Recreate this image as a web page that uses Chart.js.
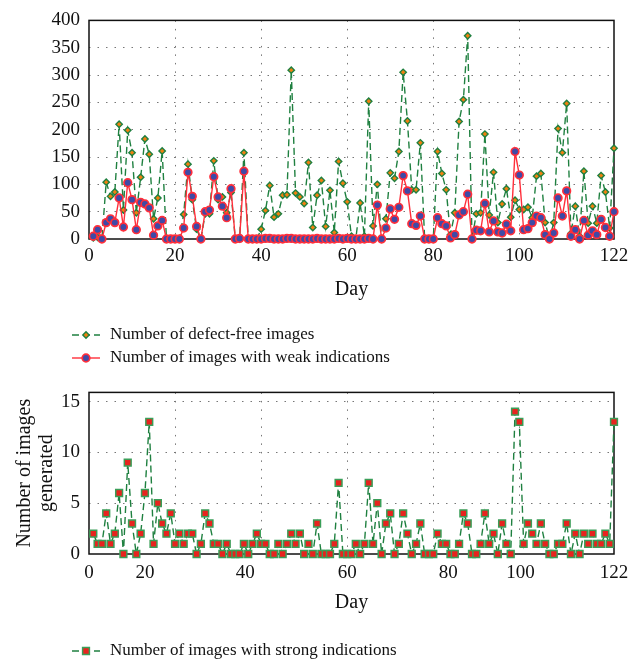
<!DOCTYPE html>
<html>
<head>
<meta charset="utf-8">
<script src="https://cdn.jsdelivr.net/npm/chart.js@4.4.1/dist/chart.umd.min.js"></script>
<style>
  html, body { margin: 0; padding: 0; background: #fff; overflow: hidden; }
  #topBox { position: absolute; left: 0; top: 0; width: 639px; height: 372px; }
  #bottomBox { position: absolute; left: 0; top: 372px; width: 639px; height: 293px; }
</style>
</head>
<body>
<div id="topBox"><canvas id="topChart"></canvas></div>
<div id="bottomBox"><canvas id="bottomChart"></canvas></div>
<script>
// day 1 .. 122
var defectFree = [2, 3, 0, 104, 78, 86, 210, 53, 199, 158,
  48, 113, 183, 155, 37, 75, 161, 0, 0, 0,
  0, 45, 137, 72, 18, 0, 46, 46, 143, 72,
  77, 48, 85, 0, 0, 158, 0, 0, 0, 18,
  52, 98, 40, 46, 80, 81, 309, 84, 77, 65,
  140, 21, 80, 107, 23, 89, 12, 142, 102, 68,
  5, 0, 66, 5, 252, 24, 100, 0, 37, 121,
  111, 160, 305, 216, 90, 90, 176, 0, 0, 0,
  160, 120, 90, 8, 48, 215, 255, 372, 0, 46,
  48, 192, 44, 122, 30, 64, 92, 40, 71, 54,
  54, 58, 39, 115, 120, 30, 0, 30, 202, 158,
  248, 10, 60, 5, 124, 29, 60, 29, 116, 86,
  20, 166];
var weakInd = [5, 17, 0, 30, 37, 30, 75, 22, 103, 72,
  17, 67, 64, 57, 7, 24, 34, 0, 0, 0,
  0, 20, 122, 78, 23, 0, 50, 53, 114, 77,
  60, 39, 92, 0, 1, 124, 0, 0, 0, 0,
  1, 1, 0, 0, 0, 1, 1, 0, 0, 0,
  0, 0, 1, 0, 0, 0, 0, 1, 0, 1,
  0, 0, 0, 0, 1, 0, 62, 0, 20, 55,
  36, 58, 116, 88, 28, 25, 42, 0, 0, 0,
  39, 28, 24, 2, 8, 44, 50, 82, 0, 16,
  15, 65, 13, 33, 13, 11, 27, 15, 160, 117,
  17, 19, 30, 42, 39, 8, 0, 11, 75, 42,
  88, 5, 17, 0, 34, 7, 15, 8, 36, 21,
  5, 50];
var strongInd = [2, 1, 1, 4, 1, 2, 6, 0, 9, 3,
  0, 2, 6, 13, 1, 5, 3, 2, 4, 1,
  2, 1, 2, 2, 0, 1, 4, 3, 1, 1,
  0, 1, 0, 0, 0, 1, 0, 1, 2, 1,
  1, 0, 0, 1, 0, 1, 2, 1, 2, 0,
  1, 0, 3, 0, 0, 0, 1, 7, 0, 0,
  0, 1, 0, 1, 7, 1, 5, 0, 3, 4,
  0, 1, 4, 2, 0, 1, 3, 0, 0, 0,
  2, 1, 1, 0, 0, 1, 4, 3, 0, 0,
  1, 4, 1, 2, 0, 3, 1, 0, 14, 13,
  1, 3, 2, 1, 3, 1, 0, 0, 1, 1,
  3, 0, 2, 0, 2, 1, 2, 1, 1, 2,
  1, 13];
var days = defectFree.map(function (v, i) { return i + 1; });

var dayTicks = [0, 20, 40, 60, 80, 100, 122];
// the lower panel prints its day labels at these spots
var strongLabelDays = [0, 13, 36.3, 60, 83.5, 100.3, 122];
var topYTicks = [0, 50, 100, 150, 200, 250, 300, 350, 400];
var bottomYTicks = [0, 5, 10, 15];

var green = '#1f8040';
var gridCol = '#777';

Chart.defaults.font.family = "'Liberation Serif', 'Times New Roman', serif";
Chart.defaults.color = '#111';

function pts(arr) {
  return arr.map(function (v, i) { return { x: days[i], y: v }; });
}

function innerGrid(lo, hi) {
  return function (c) {
    var v = c.tick ? c.tick.value : lo;
    return (v > lo && v < hi) ? gridCol : 'rgba(0,0,0,0)';
  };
}

var framePlugin = {
  id: 'frame',
  beforeDatasetsDraw: function (chart) {
    var ctx = chart.ctx, a = chart.chartArea;
    ctx.save();
    ctx.strokeStyle = '#111';
    ctx.lineWidth = 1.5;
    ctx.strokeRect(a.left, a.top, a.right - a.left, a.bottom - a.top);
    ctx.restore();
  }
};

var legendPlugin = {
  id: 'sideLegend',
  afterDraw: function (chart, args, opts) {
    var ctx = chart.ctx;
    ctx.save();
    chart.data.datasets.forEach(function (ds, i) {
      var y = opts.top + i * opts.rowHeight;
      var x = opts.left;
      ctx.beginPath();
      ctx.setLineDash(ds.borderDash || []);
      ctx.lineWidth = ds.borderWidth;
      ctx.strokeStyle = ds.borderColor;
      ctx.moveTo(x, y);
      ctx.lineTo(x + 28, y);
      ctx.stroke();
      ctx.setLineDash([]);
      ctx.fillStyle = ds.pointBackgroundColor;
      ctx.strokeStyle = ds.pointBorderColor;
      ctx.lineWidth = ds.pointBorderWidth;
      Chart.helpers.drawPoint(ctx, {
        pointStyle: ds.pointStyle, radius: ds.pointRadius,
        borderWidth: ds.pointBorderWidth, rotation: 0
      }, x + 14, y);
      ctx.fillStyle = '#111';
      ctx.font = "17px 'Liberation Serif', serif";
      ctx.textBaseline = 'middle';
      ctx.textAlign = 'left';
      ctx.fillText(ds.label, x + 38, y);
    });
    ctx.restore();
  }
};

new Chart(document.getElementById('topChart'), {
  type: 'line',
  data: {
    datasets: [{
      label: 'Number of defect-free images',
      data: pts(defectFree),
      borderColor: green,
      borderDash: [7, 4],
      borderWidth: 1.4,
      pointStyle: 'rectRot',
      pointRadius: 3.2,
      pointBackgroundColor: '#f0800f',
      pointBorderColor: green,
      pointBorderWidth: 1.4,
      order: 2,
      clip: false
    }, {
      label: 'Number of images with weak indications',
      data: pts(weakInd),
      borderColor: '#ff2e3a',
      borderWidth: 1.4,
      pointStyle: 'circle',
      pointRadius: 3.8,
      pointBackgroundColor: '#3f4aa6',
      pointBorderColor: '#ff2e3a',
      pointBorderWidth: 1.7,
      order: 1,
      clip: false
    }]
  },
  options: {
    animation: false,
    responsive: true,
    maintainAspectRatio: false,
    layout: { padding: { top: 15, right: 25, left: 0, bottom: 68 } },
    plugins: {
      legend: { display: false },
      tooltip: { enabled: false },
      sideLegend: { left: 72, top: 335, rowHeight: 23 }
    },
    scales: {
      x: {
        type: 'linear', min: 0, max: 122,
        afterBuildTicks: function (s) { s.ticks = dayTicks.map(function (v) { return { value: v }; }); },
        ticks: { autoSkip: false, maxRotation: 0, padding: 6, font: { size: 19 }, color: '#111' },
        grid: { drawTicks: false, color: innerGrid(0, 122), lineWidth: 1 },
        border: { display: false, dash: [1.5, 7] },
        title: { display: true, text: 'Day', font: { size: 20, lineHeight: 1.1 }, padding: { top: 0, bottom: 3 }, color: '#111' },
        afterFit: function (s) { s.height = 65; }
      },
      y: {
        min: 0, max: 400,
        afterBuildTicks: function (s) { s.ticks = topYTicks.map(function (v) { return { value: v }; }); },
        ticks: { padding: 9, font: { size: 19 }, color: '#111' },
        grid: { drawTicks: false, color: innerGrid(0, 400), lineWidth: 1 },
        border: { display: false, dash: [1.5, 7] },
        afterFit: function (s) { s.width = 89; }
      }
    }
  },
  plugins: [framePlugin, legendPlugin]
});

new Chart(document.getElementById('bottomChart'), {
  type: 'line',
  data: {
    datasets: [{
      label: 'Number of images with strong indications',
      data: pts(strongInd),
      borderColor: green,
      borderDash: [7, 4],
      borderWidth: 1.4,
      pointStyle: 'rect',
      pointRadius: 4.8,
      pointBackgroundColor: '#e8231e',
      pointBorderColor: '#3a9e58',
      pointBorderWidth: 1.5,
      clip: false
    }]
  },
  options: {
    animation: false,
    responsive: true,
    maintainAspectRatio: false,
    layout: { padding: { top: 14, right: 25, left: 0, bottom: 51 } },
    plugins: {
      legend: { display: false },
      tooltip: { enabled: false },
      sideLegend: { left: 72, top: 279, rowHeight: 23 }
    },
    scales: {
      x: {
        type: 'linear', min: 0, max: 122, weight: 0,
        afterBuildTicks: function (s) { s.ticks = dayTicks.map(function (v) { return { value: v }; }); },
        ticks: { display: false },
        grid: { drawTicks: false, color: innerGrid(0, 122), lineWidth: 1 },
        border: { display: false, dash: [1.5, 7] },
        afterFit: function (s) { s.height = 0; }
      },
      xl: {
        type: 'linear', position: 'bottom', min: 0, max: 122, weight: 1,
        afterBuildTicks: function (s) { s.ticks = strongLabelDays.map(function (v) { return { value: v }; }); },
        ticks: {
          autoSkip: false, maxRotation: 0, padding: 8, font: { size: 19 }, color: '#111',
          callback: function (v, i) { return dayTicks[i]; }
        },
        grid: { display: false, drawTicks: false },
        border: { display: false },
        title: { display: true, text: 'Day', font: { size: 20, lineHeight: 1.1 }, padding: { top: 0, bottom: 0 }, color: '#111' },
        afterFit: function (s) { s.height = 60; }
      },
      y: {
        min: 0, max: 15.9,
        afterBuildTicks: function (s) { s.ticks = bottomYTicks.map(function (v) { return { value: v }; }); },
        ticks: { padding: 9, font: { size: 19 }, color: '#111' },
        grid: { drawTicks: false, color: innerGrid(0, 15.9), lineWidth: 1 },
        border: { display: false, dash: [1.5, 7] },
        title: {
          display: true, text: ['Number of images', 'generated'],
          font: { size: 20, lineHeight: 1.1 }, padding: { top: 14, bottom: 0 }, color: '#111'
        },
        afterFit: function (s) { s.width = 89; }
      }
    }
  },
  plugins: [framePlugin, legendPlugin]
});
</script>
</body>
</html>
